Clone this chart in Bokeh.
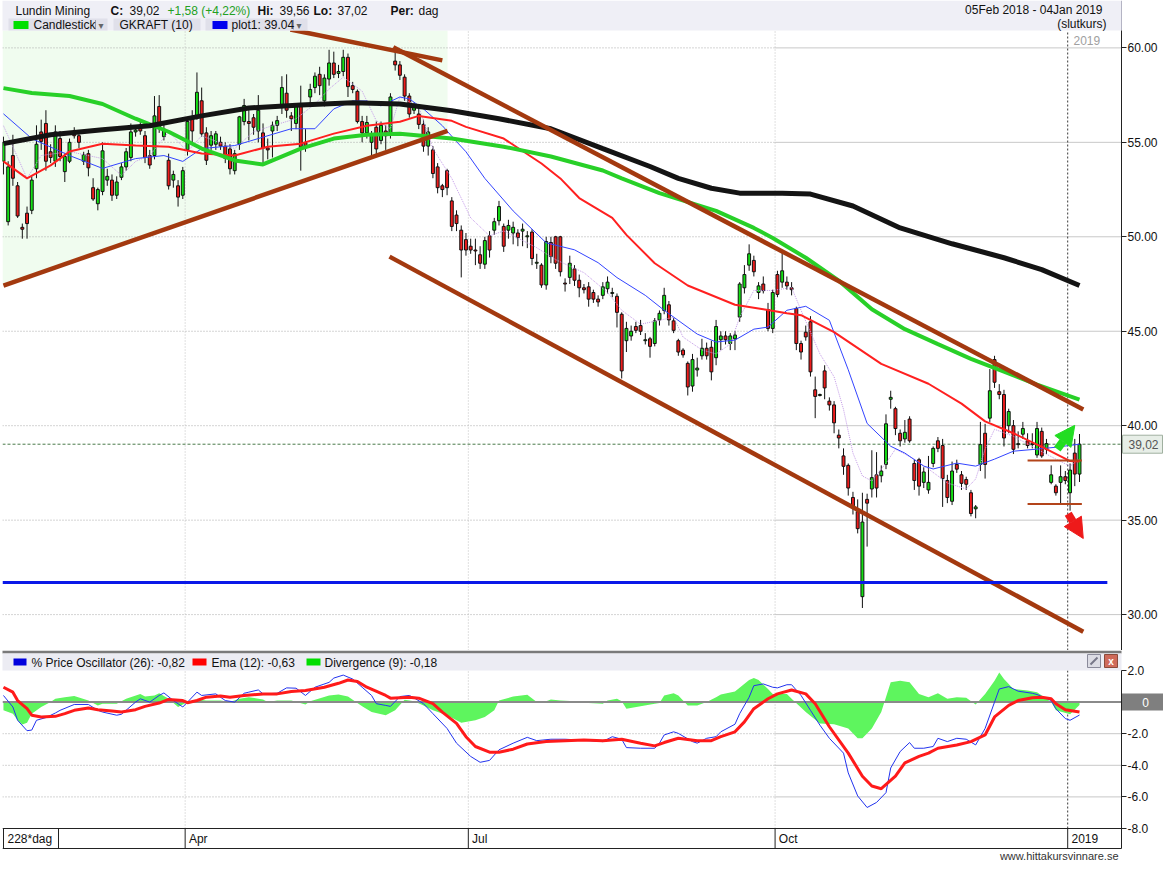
from bokeh.plotting import figure
from bokeh.models import Range1d, FixedTicker, NumeralTickFormatter, Arrow, NormalHead
from bokeh.layouts import column
from bokeh.core.properties import value
from bokeh.embed import file_html
from bokeh.resources import INLINE

# ---------------- data (trading-day index 0 = 05 Feb 2018 ... 228 = 04 Jan 2019) ----------------
OPEN = [
    54.0, 50.8, 54.3, 52.7, 50.5, 51.25, 51.4, 53.6, 55.55, 56.0,
    54.5, 54.0, 55.2, 53.45, 54.0, 55.45, 55.35, 54.0, 54.4, 52.6,
    51.75, 52.4, 53.0, 53.0, 52.2, 53.15, 53.7, 54.2, 55.55, 55.9,
    55.35, 54.3, 54.3, 56.9, 55.3, 54.05, 53.0, 52.7, 52.2, 54.6,
    56.35, 56.4, 57.2, 55.5, 54.85, 54.9, 55.0, 54.8, 54.65, 53.5,
    54.9, 56.1, 56.1, 56.3, 55.6, 55.5, 54.7, 55.6, 55.9, 57.0,
    57.6, 56.4, 56.0, 56.9, 55.0, 57.4, 57.9, 58.6, 57.2, 58.35,
    59.2, 58.65, 58.75, 59.5, 58.0, 57.7, 56.1, 55.5, 55.0, 55.8,
    55.1, 55.6, 55.45, 59.3, 59.1, 58.45, 57.45, 56.7, 56.5, 55.95,
    54.8, 54.6, 53.7, 52.7, 53.5, 51.9, 51.15, 50.35, 49.85, 49.5,
    49.3, 49.05, 48.55, 50.05, 50.35, 50.85, 50.55, 50.35, 50.2, 50.2,
    50.3, 50.0, 50.25, 48.6, 48.5, 47.45, 49.7, 50.0, 50.0, 47.55,
    47.85, 48.3, 47.7, 47.3, 47.35, 47.05, 46.7, 46.9, 47.25, 47.0,
    46.85, 45.9, 44.5, 44.75, 45.25, 45.3, 44.5, 44.6, 44.35, 45.6,
    46.1, 46.4, 45.55, 44.5, 44.0, 43.3, 42.1, 42.95, 43.7, 44.1,
    44.15, 43.6, 44.55, 44.75, 44.35, 44.6, 45.75, 47.3, 48.5, 48.75,
    47.05, 47.5, 46.15, 45.15, 48.0, 47.6, 47.6, 47.3, 46.2, 44.35,
    44.95, 45.5, 41.9, 41.6, 42.9, 41.3, 41.1, 39.5, 38.4, 37.9,
    36.2, 35.45, 30.95, 36.1, 36.65, 37.4, 37.35, 37.95, 41.4, 40.9,
    39.6, 39.3, 40.35, 38.0, 38.2, 37.0, 36.6, 38.0, 39.2, 38.95,
    37.1, 36.0, 37.95, 37.4, 37.15, 36.45, 35.6, 37.95, 39.6, 40.4,
    43.5, 41.8, 41.65, 40.0, 40.0, 39.0, 39.55, 39.2, 39.0, 38.45,
    39.7, 38.75, 37.0, 36.8, 37.0, 37.3, 36.45, 38.55, 37.44]
HIGH = [
    55.3, 54.0, 55.4, 52.9, 50.7, 51.6, 53.2, 55.9, 56.2, 56.7,
    54.9, 55.9, 55.6, 54.4, 55.2, 55.8, 55.6, 54.5, 54.6, 53.1,
    52.6, 55.0, 53.6, 53.3, 53.2, 53.9, 54.7, 56.0, 55.8, 56.1,
    55.6, 54.6, 57.45, 57.5, 56.0, 54.4, 53.5, 53.0, 53.7, 56.3,
    56.7, 58.7, 57.9, 55.8, 55.6, 55.6, 55.3, 55.0, 54.9, 54.6,
    56.4, 57.3, 56.9, 56.5, 57.5, 56.0, 55.2, 56.1, 56.4, 58.5,
    58.6, 56.6, 57.0, 58.0, 55.7, 58.1, 58.7, 59.0, 58.6, 59.9,
    59.8, 59.1, 59.9, 59.7, 58.2, 57.8, 56.4, 56.4, 55.6, 56.1,
    56.1, 55.9, 57.6, 60.0, 59.3, 58.6, 57.6, 57.1, 56.8, 56.2,
    55.8, 54.8, 53.9, 52.8, 53.6, 52.1, 51.4, 50.6, 50.2, 49.9,
    49.9, 49.5, 50.0, 50.3, 51.0, 51.9, 50.7, 50.9, 50.8, 50.4,
    50.7, 50.3, 50.4, 49.1, 48.6, 50.0, 50.0, 50.05, 50.05, 47.8,
    49.0, 48.5, 48.0, 47.5, 47.6, 47.2, 46.9, 47.6, 47.9, 47.3,
    47.0, 46.0, 45.5, 45.3, 45.5, 45.6, 44.9, 44.7, 45.7, 46.1,
    47.3, 46.6, 45.7, 44.6, 44.1, 43.4, 43.8, 43.6, 44.6, 44.4,
    44.5, 45.6, 45.0, 45.0, 44.9, 45.0, 47.6, 48.5, 49.6, 49.0,
    47.6, 47.9, 46.5, 47.2, 48.2, 49.2, 47.9, 47.6, 46.3, 44.5,
    45.3, 45.8, 42.6, 41.7, 43.2, 41.5, 41.3, 39.8, 38.8, 38.0,
    36.5, 36.1, 36.45, 36.4, 38.7, 38.6, 37.9, 40.6, 41.85, 41.0,
    39.8, 40.3, 40.5, 38.2, 38.3, 37.8, 38.4, 38.9, 39.4, 39.3,
    37.4, 38.1, 38.2, 37.6, 37.3, 36.6, 35.8, 40.2, 40.1, 43.0,
    43.7, 42.2, 41.9, 40.9, 40.3, 39.7, 40.2, 39.6, 39.6, 40.2,
    39.9, 39.3, 37.9, 36.9, 37.9, 37.6, 38.0, 39.3, 39.56]
LOW = [
    53.3, 50.6, 52.7, 51.0, 49.9, 49.9, 51.2, 53.1, 54.6, 53.5,
    53.9, 53.7, 54.0, 52.9, 53.9, 55.2, 54.7, 53.8, 53.2, 51.9,
    51.4, 52.2, 52.7, 51.9, 52.0, 53.0, 53.5, 54.0, 55.3, 55.4,
    53.9, 53.6, 54.1, 55.5, 55.1, 52.5, 52.6, 51.6, 52.0, 54.3,
    55.0, 56.2, 55.3, 53.8, 54.6, 54.6, 54.6, 53.9, 53.3, 53.3,
    54.6, 55.9, 55.1, 55.4, 55.0, 53.8, 54.1, 54.2, 55.6, 56.5,
    56.3, 55.6, 55.7, 53.5, 54.5, 56.9, 57.6, 57.5, 56.9, 58.0,
    58.4, 58.4, 58.5, 57.4, 57.6, 56.0, 55.0, 55.2, 54.3, 54.3,
    54.9, 54.6, 55.2, 58.8, 58.3, 57.2, 56.3, 56.5, 55.7, 54.5,
    54.3, 53.1, 52.3, 52.1, 52.2, 50.3, 50.3, 47.85, 49.0, 49.1,
    48.5, 48.3, 48.3, 48.9, 50.1, 50.6, 49.2, 49.9, 49.6, 49.5,
    49.5, 49.4, 48.5, 48.3, 47.3, 47.2, 48.6, 48.3, 47.9, 47.1,
    47.5, 47.4, 46.8, 47.0, 46.3, 46.5, 46.3, 46.7, 47.0, 46.8,
    45.2, 42.5, 43.9, 44.5, 44.9, 44.8, 44.3, 43.6, 44.2, 45.3,
    45.9, 45.3, 44.9, 43.7, 43.6, 41.6, 41.8, 42.6, 43.5, 43.5,
    42.4, 43.2, 44.0, 44.3, 44.0, 44.0, 45.5, 47.0, 48.2, 47.9,
    46.7, 47.0, 45.0, 44.9, 46.8, 47.3, 47.2, 46.9, 44.0, 43.5,
    44.5, 42.6, 40.4, 41.55, 41.4, 40.8, 39.6, 38.8, 37.4, 36.3,
    35.3, 34.3, 30.35, 33.6, 36.2, 36.2, 37.0, 37.7, 40.9, 39.5,
    38.9, 39.1, 39.1, 36.6, 36.3, 36.7, 36.4, 37.8, 38.6, 35.7,
    35.9, 35.8, 37.5, 36.6, 36.6, 35.2, 35.1, 37.6, 37.2, 40.2,
    42.0, 41.4, 38.9, 39.6, 38.5, 38.8, 39.3, 38.8, 38.8, 38.3,
    38.3, 38.5, 36.9, 36.3, 35.9, 36.9, 35.5, 36.8, 37.02]
CLOSE = [
    55.0, 53.7, 53.1, 51.1, 50.4, 50.7, 53.0, 54.9, 55.05, 54.0,
    54.2, 55.55, 54.25, 54.25, 55.0, 55.35, 55.0, 54.35, 53.65, 52.0,
    52.5, 54.55, 53.2, 52.2, 52.9, 53.7, 54.5, 55.55, 55.65, 55.6,
    54.2, 53.8, 56.4, 55.8, 55.7, 52.7, 53.3, 52.1, 53.5, 56.1,
    55.6, 57.65, 55.45, 54.05, 55.35, 55.45, 54.8, 54.15, 53.6, 54.4,
    56.35, 56.95, 56.0, 55.8, 56.7, 54.7, 54.6, 55.9, 56.15, 57.9,
    56.7, 56.25, 56.9, 54.75, 54.8, 57.8, 58.5, 58.0, 58.4, 59.2,
    58.6, 58.75, 59.5, 57.95, 57.8, 56.1, 55.5, 56.05, 55.45, 54.65,
    55.9, 55.35, 57.4, 59.1, 58.55, 57.45, 56.5, 56.9, 55.95, 54.8,
    55.55, 53.35, 52.6, 52.5, 52.6, 50.55, 50.7, 49.3, 49.3, 49.3,
    49.25, 48.6, 49.8, 49.3, 50.8, 51.6, 49.5, 50.6, 50.5, 49.95,
    50.4, 50.05, 48.85, 48.65, 47.45, 49.75, 48.95, 48.6, 48.15, 47.5,
    48.6, 47.7, 47.3, 47.2, 46.7, 46.7, 46.55, 47.35, 47.6, 47.05,
    46.0, 42.9, 45.15, 45.0, 45.05, 45.0, 44.55, 44.2, 45.55, 45.95,
    46.9, 45.6, 45.05, 43.9, 43.75, 42.05, 43.5, 43.05, 44.1, 43.7,
    42.85, 45.25, 44.75, 44.55, 44.75, 44.8, 47.5, 48.0, 49.1, 48.15,
    47.4, 47.15, 45.15, 47.05, 46.95, 48.2, 47.4, 47.2, 44.35, 43.9,
    44.7, 42.85, 41.55, 41.65, 42.0, 41.1, 40.15, 39.35, 37.85, 36.7,
    35.7, 34.55, 34.9, 35.9, 37.25, 36.7, 37.6, 40.1, 41.5, 39.85,
    39.2, 39.65, 39.2, 37.1, 36.8, 37.55, 37.0, 38.8, 38.8, 37.2,
    36.2, 37.6, 37.7, 36.95, 36.9, 35.35, 35.7, 39.0, 37.95, 41.85,
    42.3, 41.65, 39.35, 40.75, 38.75, 39.05, 39.85, 38.95, 39.05, 39.85,
    38.4, 39.05, 37.4, 36.45, 37.3, 37.1, 37.65, 37.44, 39.02]

MONTH_LABELS = ["Apr", "Jul", "Oct", "2019"]
MONTH_POS = [38.5, 98.5, 163.5, 225.5]
PRICE_TICKS = [30, 35, 40, 45, 50, 55, 60]
OSC_TICKS = [-8, -6, -4, -2, 2]
OSC_GRID = [-6, -4, -2]

# moving averages (day index, price)
MA200 = [(0, 54.93), (10, 55.40), (21, 55.67), (31, 55.88), (42, 56.40), (52, 56.82), (63, 56.98),
         (74, 57.09), (84, 57.03), (95, 56.67), (105, 56.25), (116, 55.72), (127, 54.67), (137, 53.72),
         (143, 53.09), (150, 52.57), (156, 52.31), (165, 52.31), (171, 52.26), (180, 51.63),
         (190, 50.47), (201, 49.63), (212, 48.89), (220, 48.26), (228, 47.42)]
MA50 = [(0, 57.87), (6, 57.61), (14, 57.45), (21, 57.03), (28, 56.25), (35, 55.56), (42, 54.67),
        (49, 54.04), (55, 53.83), (63, 54.67), (70, 55.20), (77, 55.40), (84, 55.46), (95, 55.20),
        (106, 54.77), (116, 54.25), (127, 53.51), (131, 53.09), (139, 52.31), (151, 51.37),
        (159, 50.47), (163, 49.94), (170, 48.89), (177, 47.68), (184, 46.16), (191, 45.11),
        (198, 44.32), (205, 43.54), (212, 42.86), (219, 42.17), (228, 41.38)]
MA20 = [(0, 53.99), (5, 53.09), (10, 53.78), (14, 54.51), (21, 54.93), (28, 54.83), (35, 54.77),
        (42, 54.41), (49, 54.30), (56, 54.77), (63, 54.93), (70, 55.46), (77, 55.88), (84, 56.09),
        (88, 56.40), (95, 56.14), (98, 55.82), (106, 55.20), (114, 53.88), (118, 53.09), (122, 52.05),
        (129, 51.0), (132, 50.1), (138, 48.6), (145, 47.42), (155, 46.4), (161, 46.17), (166, 45.95),
        (169, 45.85), (176, 44.95), (186, 43.27), (196, 42.22), (203, 41.17), (208, 40.23),
        (214, 39.60), (221, 38.76), (226, 38.13), (228, 38.10)]
MA10 = [(0, 56.51), (6, 55.20), (14, 54.30), (21, 53.62), (28, 54.14), (34, 54.30), (38, 53.99),
        (42, 54.67), (49, 54.83), (54, 55.20), (61, 55.72), (66, 55.72), (70, 56.77), (74, 57.19),
        (77, 57.19), (80, 56.93), (84, 57.40), (86, 57.30), (89, 56.77), (93, 55.88), (96, 55.04),
        (98, 54.50), (102, 53.09), (108, 51.37), (115, 49.68), (121, 49.31), (126, 48.63),
        (130, 47.84), (136, 46.90), (140, 46.11), (147, 44.85), (151, 44.43), (155, 44.53),
        (159, 45.11), (162, 45.22), (166, 46.11), (170, 46.32), (175, 45.58), (179, 42.96),
        (183, 40.12), (188, 38.91), (191, 38.55), (195, 37.86), (197, 37.71), (202, 38.02),
        (206, 37.86), (210, 38.23), (214, 38.65), (219, 38.76), (223, 38.86), (228, 39.02)]
MA5 = [(0, 55.88), (5, 53.09), (8, 54.30), (14, 54.51), (21, 54.14), (25, 53.25), (28, 53.99),
       (31, 54.30), (35, 55.56), (39, 54.51), (42, 55.35), (49, 54.67), (53, 55.56), (57, 55.88),
       (62, 56.25), (66, 57.03), (69, 57.82), (72, 58.45), (76, 57.71), (79, 56.14), (82, 55.72),
       (84, 57.40), (88, 56.88), (91, 54.67), (95, 53.09), (99, 51.0), (103, 50.05), (106, 50.31),
       (113, 49.42), (117, 48.79), (123, 48.10), (128, 47.05), (131, 46.11), (135, 45.37),
       (139, 45.58), (142, 45.74), (144, 44.69), (148, 44.01), (151, 43.80), (154, 44.32),
       (156, 45.74), (159, 47.16), (163, 47.16), (167, 47.31), (169, 46.11), (173, 43.80),
       (176, 42.59), (178, 40.86), (180, 38.55), (182, 37.34), (184, 37.07), (187, 38.02),
       (189, 38.76), (193, 38.23), (196, 37.71), (200, 36.97), (204, 36.65), (206, 37.18),
       (208, 38.76), (210, 39.81), (214, 39.44), (219, 38.76), (223, 38.23), (226, 37.86), (228, 38.23)]

# drawn trend lines (start day, start price, end day, end price)
TREND_X0 = [60.8, 82.6, 0.0, 81.8]
TREND_Y0 = [60.97, 60.03, 47.42, 48.95]
TREND_X1 = [93.0, 228.8, 94.1, 228.8]
TREND_Y1 = [59.34, 40.86, 55.61, 29.09]
SUPPORT_LEVELS = [38.16, 35.85]
SUPPORT_FROM, SUPPORT_TO = 217.0, 228.5
PLOT1_LEVEL, PLOT1_END = 31.7, 233.9
LAST_CLOSE = 39.02
ARROW_UP = (223.3, 38.76, 227.0, 40.02)
ARROW_DOWN = (225.6, 35.34, 228.8, 34.03)

# oscillator (day index, value)
PPO = [(0, 0.42), (2, -0.31), (3, -1.15), (5, -1.81), (6, -1.77), (7, -1.15), (9, -0.98), (11, -0.69),
       (12, -0.52), (15, -0.15), (18, -0.15), (20, -0.52), (21, -0.63), (24, -0.83), (25, -0.77),
       (28, 0.0), (29, 0.21), (31, 0.0), (33, 0.42), (34, 0.58), (36, 0.10), (38, -0.31), (39, 0.0),
       (41, 0.63), (42, 0.42), (45, 0.52), (47, 0.10), (49, 0.0), (51, 0.56), (52, 0.63), (54, 0.77),
       (55, 0.52), (58, 0.56), (60, 0.90), (62, 0.88), (64, 0.42), (66, 0.94), (69, 1.25), (70, 1.52),
       (72, 1.71), (74, 1.46), (76, 0.94), (78, 0.42), (79, -0.10), (81, -0.21), (82, -0.27),
       (84, 0.35), (86, 0.42), (87, 0.27), (89, -0.10), (91, -0.73), (94, -1.67), (96, -2.60),
       (99, -3.44), (101, -3.81), (103, -3.69), (105, -3.02), (108, -2.60), (111, -2.23),
       (113, -2.44), (116, -2.35), (119, -2.35), (122, -2.40), (124, -2.44), (127, -2.50),
       (129, -2.19), (131, -2.35), (132, -2.88), (135, -2.92), (138, -2.92), (139, -2.60),
       (140, -2.08), (142, -1.88), (143, -1.98), (146, -2.50), (147, -2.60), (149, -2.29),
       (151, -2.19), (152, -1.88), (155, -1.40), (156, -0.73), (158, 0.31), (159, 1.04), (161, 1.15),
       (163, 0.94), (164, 0.90), (166, 1.10), (167, 1.10), (169, 0.42), (171, -0.52), (173, -1.46),
       (175, -2.29), (178, -3.23), (179, -4.48), (181, -5.94), (183, -6.67), (185, -6.35),
       (187, -5.73), (188, -4.17), (190, -3.13), (192, -2.56), (193, -2.92), (195, -2.92),
       (197, -2.81), (198, -2.29), (200, -2.50), (202, -2.29), (204, -2.35), (206, -2.71),
       (208, -1.67), (210, 0.0), (211, 0.83), (213, 0.98), (215, 0.69), (218, 0.56), (219, 0.48),
       (222, 0.10), (223, -0.42), (225, -1.04), (226, -1.15), (228, -0.82)]
EMA = [(0, 0.94), (2, 0.63), (3, 0.10), (5, -0.42), (6, -0.83), (8, -0.94), (11, -0.90), (13, -0.73),
       (15, -0.52), (18, -0.38), (20, -0.48), (23, -0.56), (25, -0.63), (28, -0.48), (30, -0.27),
       (33, -0.06), (35, 0.17), (38, 0.10), (39, -0.04), (41, 0.10), (43, 0.31), (46, 0.38),
       (48, 0.31), (51, 0.42), (55, 0.52), (58, 0.52), (61, 0.67), (64, 0.73), (68, 0.94),
       (71, 1.19), (73, 1.40), (75, 1.31), (77, 0.94), (81, 0.42), (82, 0.25), (86, 0.31),
       (88, 0.25), (91, -0.10), (93, -0.63), (96, -1.35), (98, -2.19), (100, -2.81), (103, -3.17),
       (105, -3.17), (108, -2.98), (111, -2.65), (115, -2.50), (119, -2.44), (123, -2.40),
       (127, -2.44), (131, -2.35), (135, -2.60), (138, -2.77), (140, -2.56), (143, -2.29),
       (147, -2.44), (150, -2.44), (152, -2.19), (155, -1.88), (157, -1.25), (159, -0.42),
       (162, 0.21), (164, 0.52), (167, 0.77), (170, 0.52), (172, -0.10), (175, -1.56),
       (179, -3.23), (182, -4.69), (184, -5.31), (186, -5.48), (189, -4.69), (191, -3.85),
       (194, -3.44), (196, -3.23), (198, -2.92), (202, -2.71), (205, -2.50), (208, -2.08),
       (210, -0.94), (213, -0.21), (215, 0.10), (218, 0.27), (220, 0.31), (222, 0.21),
       (223, -0.10), (225, -0.48), (228, -0.63)]
DIV = [(0, -0.52), (2, -0.73), (3, -1.15), (4, -1.42), (5, -1.31), (6, -0.73), (8, -0.31), (10, 0.0),
       (11, 0.21), (13, 0.31), (15, 0.38), (18, 0.10), (20, -0.21), (21, -0.10), (24, -0.10),
       (26, 0.21), (29, 0.52), (30, 0.35), (32, 0.42), (33, 0.56), (35, 0.21), (37, -0.31), (39, 0.0),
       (41, 0.15), (43, 0.10), (46, 0.10), (48, 0.0), (50, 0.21), (52, 0.31), (55, 0.17), (56, 0.0),
       (58, 0.10), (61, 0.10), (64, -0.15), (65, 0.06), (69, 0.42), (71, 0.48), (73, 0.35),
       (76, -0.27), (78, -0.63), (81, -0.83), (83, -0.52), (85, 0.15), (87, 0.06), (89, -0.21),
       (91, -0.52), (94, -0.83), (97, -1.31), (100, -1.15), (102, -0.94), (104, -0.52), (105, 0.10),
       (108, 0.35), (111, 0.46), (113, 0.0), (114, -0.06), (116, 0.17), (118, 0.10), (121, 0.06),
       (124, -0.06), (127, -0.10), (128, 0.10), (130, 0.21), (131, 0.06), (132, -0.42),
       (135, -0.27), (138, -0.10), (139, -0.06), (140, 0.42), (142, 0.56), (143, 0.42),
       (145, -0.21), (147, -0.21), (149, 0.0), (151, 0.31), (152, 0.48), (155, 0.67), (158, 1.40),
       (159, 1.52), (160, 1.40), (162, 0.83), (163, 0.52), (166, 0.52), (167, 0.21), (170, -0.63),
       (173, -1.35), (176, -1.40), (179, -1.67), (181, -2.29), (182, -2.29), (184, -1.67),
       (186, -0.63), (188, 1.25), (190, 1.35), (192, 1.25), (194, 0.52), (196, 0.31), (198, 0.56),
       (200, 0.21), (202, 0.31), (204, 0.27), (206, -0.15), (208, 0.52), (210, 1.35), (211, 1.88),
       (212, 1.46), (214, 0.83), (217, 0.73), (219, 0.63), (222, 0.0), (223, -0.52), (226, -0.77),
       (228, -0.18)]


def xs(pts):
    return [a for a, b in pts]


def ys(pts):
    return [b for a, b in pts]


# ---------------- layout constants ----------------
W = 1163
FONT = "Liberation Sans"
X0, X1 = -0.2, 236.9            # chart area (left edge .. price axis)
PX_PER_DAY = 1119 / (X1 - X0)
X1E = X0 + (W - 2) / PX_PER_DAY  # frame continues under the axis-label column
xr = Range1d(X0, X1E)


def txt(p, x, y, s, size="12px", color="#111111", bold=False, align="left",
        xname="px", yname="px", font=FONT):
    p.text(x=[x], y=[y], text=[s], text_font=value(font), text_font_size=size,
           text_color=color, text_font_style="bold" if bold else "normal",
           text_align=align, text_baseline="middle", x_range_name=xname, y_range_name=yname)


def base_fig(h, yrange):
    p = figure(width=W, height=h, x_range=xr, y_range=yrange, toolbar_location=None,
               output_backend="svg", x_axis_location=None, y_axis_location="right",
               min_border_left=2, min_border_right=0, min_border_top=0, min_border_bottom=0,
               outline_line_color=None, background_fill_color="white", border_fill_color="white")
    p.grid.visible = False
    p.extra_x_ranges = {"px": Range1d(2, W)}
    ax = p.yaxis[0]
    ax.fixed_location = X1
    ax.major_tick_in = 0
    ax.major_tick_out = 5
    ax.minor_tick_line_color = None
    ax.major_label_standoff = 1
    ax.major_label_text_font = FONT
    ax.major_label_text_font_size = "12px"
    ax.major_label_text_color = "#111111"
    ax.axis_line_color = "#222222"
    ax.major_tick_line_color = "#222222"
    return p


# ================= main price panel (with header) =================
P_LO, P_HI = 28.1, 60.92
MAIN_H, HEAD_H = 620, 30
A_H = MAIN_H + HEAD_H
ppx = (P_HI - P_LO) / MAIN_H
pa = base_fig(A_H, Range1d(P_LO, P_HI + HEAD_H * ppx))
pa.extra_y_ranges = {"px": Range1d(A_H, 0)}
ax = pa.yaxis[0]
ax.ticker = FixedTicker(ticks=PRICE_TICKS)
ax.formatter = NumeralTickFormatter(format="0.00")
ax.bounds = (P_LO, P_HI)

# light green triangle zone (above the rising support line)
tx0, ty0, tx1, ty1 = TREND_X0[2], TREND_Y0[2], TREND_X1[2], TREND_Y1[2]
y_left = ty0 + (X0 - tx0) * (ty1 - ty0) / (tx1 - tx0)
pa.patch(x=[X0, tx1, tx1, X0], y=[P_HI, P_HI, ty1, y_left], fill_color="#f0fcef", line_color=None)

# grid
pa.segment(x0=X0, y0=PRICE_TICKS, x1=MONTH_POS[2], y1=PRICE_TICKS, line_color="#a8a8a8",
           line_dash="1 2", line_width=1)
pa.segment(x0=MONTH_POS[2], y0=PRICE_TICKS, x1=X1, y1=PRICE_TICKS, line_color="#c8c8c8", line_width=1)
pa.segment(x0=MONTH_POS[:3], y0=P_LO, x1=MONTH_POS[:3], y1=P_HI, line_color="#c0c0c0",
           line_dash="1 2", line_width=1)
pa.segment(x0=[MONTH_POS[3]], y0=P_LO, x1=[MONTH_POS[3]], y1=P_HI, line_color="#3a3a3a",
           line_dash="2 2", line_width=1)
pa.segment(x0=X0, y0=LAST_CLOSE, x1=X1, y1=LAST_CLOSE, line_color="#4a7a4a", line_dash="3 2",
           line_width=1)

# candles
idx = list(range(len(CLOSE)))
top = [max(o, c) for o, c in zip(OPEN, CLOSE)]
bot = [min(o, c) for o, c in zip(OPEN, CLOSE)]
cols = ["#14e014" if c >= o else "#ee1c1c" for o, c in zip(OPEN, CLOSE)]
pa.segment(x0=idx, y0=LOW, x1=idx, y1=HIGH, line_color="#111111", line_width=1)
pa.vbar(x=idx, top=top, bottom=bot, width=0.62, fill_color=cols, line_color="#111111", line_width=1)

# moving averages
pa.line(xs(MA5), ys(MA5), line_color="#c49be8", line_width=1, line_dash="1 1")
pa.line(xs(MA10), ys(MA10), line_color="#3344ff", line_width=1)
pa.line(xs(MA20), ys(MA20), line_color="#ff2020", line_width=2)
pa.line(xs(MA50), ys(MA50), line_color="#28d028", line_width=4)
pa.line(xs(MA200), ys(MA200), line_color="#141414", line_width=5)

# drawn lines
pa.segment(x0=TREND_X0, y0=TREND_Y0, x1=TREND_X1, y1=TREND_Y1, line_color="#a3390f", line_width=4.5)
pa.segment(x0=SUPPORT_FROM, y0=SUPPORT_LEVELS, x1=SUPPORT_TO, y1=SUPPORT_LEVELS,
           line_color="#b3441a", line_width=2)
pa.segment(x0=[X0], y0=[PLOT1_LEVEL], x1=[PLOT1_END], y1=[PLOT1_LEVEL], line_color="#0a18e8",
           line_width=3)
for (xa, ya, xb, yb), c in ((ARROW_UP, "#22dd22"), (ARROW_DOWN, "#ee1a1a")):
    pa.add_layout(Arrow(x_start=xa, y_start=ya, x_end=xb, y_end=yb, line_color=c, line_width=8,
                        start=None, end=NormalHead(size=20, fill_color=c, line_color=c)))

txt(pa, 1073, 40, "2019", color="#a0a0a0")

# last-price marker in the axis column
pa.quad(left=1122, right=W - 1, top=LAST_CLOSE + 9 * ppx, bottom=LAST_CLOSE - 9 * ppx,
        fill_color="#e7eee7", line_color="#a0b0a0", x_range_name="px")
pa.text(x=[1143], y=[LAST_CLOSE], text=["39,02"], text_font=value(FONT), text_font_size="12px",
        text_color="#555555", text_align="center", text_baseline="middle", x_range_name="px")

# header
pa.quad(left=0, right=1121, top=0, bottom=HEAD_H, fill_color="#efeff6", line_color=None,
        x_range_name="px", y_range_name="px")
pa.quad(left=[8, 113, 205], right=[107, 200, 307], top=18, bottom=HEAD_H, fill_color="#e0e0ea",
        line_color=None, x_range_name="px", y_range_name="px")
pa.quad(left=[13, 212], right=[28, 227], top=20.5, bottom=28.5, fill_color=["#00e000", "#0000ee"],
        line_color=None, x_range_name="px", y_range_name="px")
pa.segment(x0=[95, 293], y0=19.5, x1=[95, 293], y1=29, line_color="#9a9aa6", x_range_name="px",
           y_range_name="px")
pa.segment(x0=[1121], y0=[0], x1=[1121], y1=[HEAD_H], line_color="#b4b4c4", x_range_name="px",
           y_range_name="px")
txt(pa, 15, 10, "Lundin Mining")
txt(pa, 110, 10, "C:", bold=True)
txt(pa, 129, 10, "39,02")
txt(pa, 167, 10, "+1,58 (+4,22%)", color="#22a022")
txt(pa, 257, 10, "Hi:", bold=True)
txt(pa, 279, 10, "39,56")
txt(pa, 313, 10, "Lo:", bold=True)
txt(pa, 337, 10, "37,02")
txt(pa, 390, 10, "Per:", bold=True)
txt(pa, 418, 10, "dag")
txt(pa, 33, 24.5, "Candlestick")
txt(pa, 98, 24.5, "\u25be", size="10px", color="#666666", font="DejaVu Sans")
txt(pa, 119, 24.5, "GKRAFT (10)")
txt(pa, 231, 24.5, "plot1: 39.04")
txt(pa, 296, 24.5, "\u25be", size="10px", color="#666666", font="DejaVu Sans")
txt(pa, 1102, 9, "05Feb 2018 - 04Jan 2019", align="right")
txt(pa, 1106, 23, "(slutkurs)", align="right")

# ================= oscillator panel (legend bar, oscillator, date strip, footer) =================
O_LO, O_HI = -8.0, 2.0
OSC_H, LEG_H, STRIP_H, FOOT_H = 158, 20, 20, 13
B_H = LEG_H + OSC_H + STRIP_H + FOOT_H
opx = (O_HI - O_LO) / OSC_H
STRIP_LO = O_LO - STRIP_H * opx
pb = base_fig(B_H, Range1d(O_LO - (STRIP_H + FOOT_H) * opx, O_HI + LEG_H * opx))
pb.extra_y_ranges = {"px": Range1d(B_H, 0)}
bx = pb.yaxis[0]
bx.ticker = FixedTicker(ticks=OSC_TICKS)
bx.formatter = NumeralTickFormatter(format="0.0")
bx.bounds = (STRIP_LO, O_HI)

pb.segment(x0=X0, y0=OSC_GRID, x1=MONTH_POS[2], y1=OSC_GRID, line_color="#a8a8a8", line_dash="1 2")
pb.segment(x0=MONTH_POS[2], y0=OSC_GRID, x1=X1, y1=OSC_GRID, line_color="#c8c8c8")
pb.segment(x0=MONTH_POS[:3], y0=O_LO, x1=MONTH_POS[:3], y1=O_HI, line_color="#c0c0c0",
           line_dash="1 2")
pb.segment(x0=[MONTH_POS[3]], y0=O_LO, x1=[MONTH_POS[3]], y1=O_HI, line_color="#3a3a3a",
           line_dash="2 2")

pb.varea(x=xs(DIV), y1=0, y2=ys(DIV), fill_color="#5ef55e")
pb.segment(x0=[X0], y0=[0], x1=[X1], y1=[0], line_color="#8a8a8a", line_width=2)
pb.line(xs(PPO), ys(PPO), line_color="#2233ee", line_width=1)
pb.line(xs(EMA), ys(EMA), line_color="#ff1a1a", line_width=3)

# zero marker in the axis column
pb.quad(left=1121, right=W, top=8.5 * opx, bottom=-8.5 * opx, fill_color="#7f7f7f",
        line_color=None, x_range_name="px")
pb.text(x=[1145], y=[0], text=["0"], text_font=value(FONT), text_font_size="12px",
        text_color="white", text_align="center", text_baseline="middle", x_range_name="px")

# date strip + footer
pb.quad(left=X0, right=X1, top=O_LO, bottom=STRIP_LO - FOOT_H * opx, fill_color="white",
        line_color=None)
pb.segment(x0=X0, y0=[O_LO, STRIP_LO], x1=X1, y1=[O_LO, STRIP_LO], line_color="#222222")
pb.segment(x0=MONTH_POS, y0=STRIP_LO, x1=MONTH_POS, y1=O_LO, line_color="#222222")
pb.segment(x0=[3, 58], y0=LEG_H + OSC_H, x1=[3, 58], y1=LEG_H + OSC_H + STRIP_H,
           line_color="#222222", x_range_name="px", y_range_name="px")
txt(pb, 7, LEG_H + OSC_H + STRIP_H / 2, "228*dag")
pb.text(x=[m + 0.8 for m in MONTH_POS], y=(O_LO + STRIP_LO) / 2, text=MONTH_LABELS,
        text_font=value(FONT), text_font_size="12px", text_color="#111111",
        text_align="left", text_baseline="middle")
txt(pb, 1118, B_H - 6, "www.hittakursvinnare.se", size="11px", color="#333333", align="right")

# legend bar
pb.quad(left=0, right=1121, top=0, bottom=3, fill_color="#7a7a7a", line_color=None,
        x_range_name="px", y_range_name="px")
pb.quad(left=0, right=1121, top=3, bottom=LEG_H, fill_color="#ececf3", line_color=None,
        x_range_name="px", y_range_name="px")
pb.quad(left=[13, 192, 306], right=[26, 206, 320], top=8, bottom=15,
        fill_color=["#0000dd", "#ff0000", "#00dd00"], line_color=None,
        x_range_name="px", y_range_name="px")
txt(pb, 31, 12, "% Price Oscillator (26): -0,82")
txt(pb, 211, 12, "Ema (12): -0,63")
txt(pb, 324, 12, "Divergence (9): -0,18")
pb.quad(left=[1087, 1104], right=[1100, 1117], top=4, bottom=17, fill_color=["#dcdce4", "#cf6a5a"],
        line_color=["#8a8a9a", "#8a4a3a"], x_range_name="px", y_range_name="px")
pb.segment(x0=[1090], y0=[14], x1=[1097], y1=[7], line_color="#777788", line_width=2,
           x_range_name="px", y_range_name="px")
txt(pb, 1110.5, 10.5, "x", size="10px", color="white", bold=True, align="center")

layout = column(pa, pb, spacing=0)
open("out.html", "w").write(file_html(layout, INLINE))
